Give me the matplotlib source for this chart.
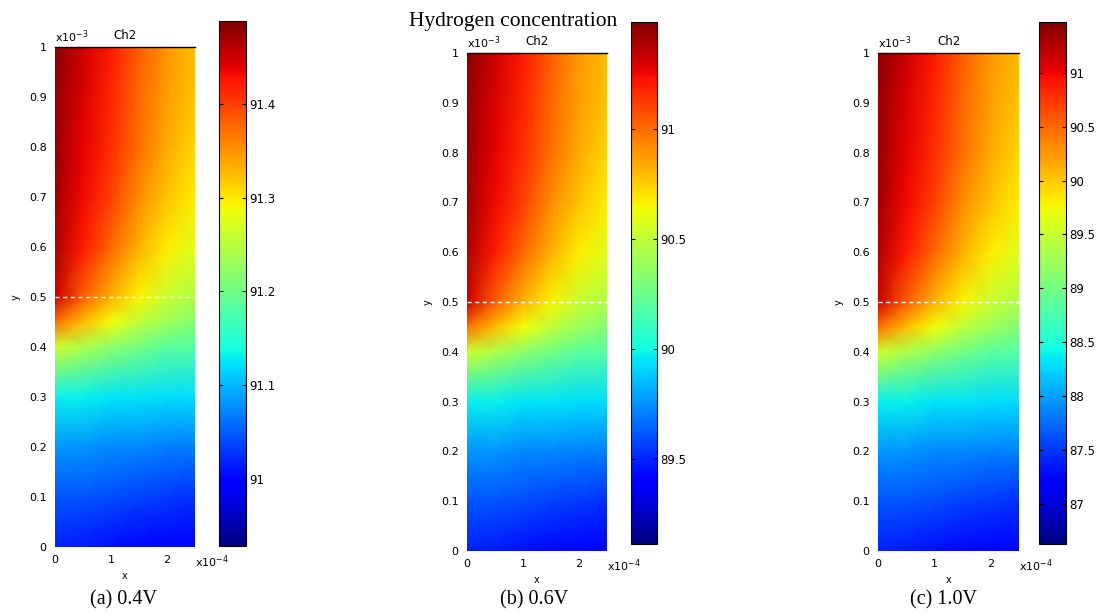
import numpy as np
import matplotlib.pyplot as plt

# grid positions (x in 1e-4, y in 1e-3)
x_pos = [0, 0.5, 1.0, 1.5, 2.0, 2.5]
y_pos = [0, 0.1, 0.2, 0.3, 0.4, 0.45, 0.5, 0.6, 0.7, 0.8, 0.9, 1.0]

frac = [
    [0.16, 0.15, 0.14, 0.13, 0.12, 0.11],
    [0.21, 0.21, 0.20, 0.19, 0.18, 0.17],
    [0.27, 0.27, 0.26, 0.26, 0.25, 0.25],
    [0.36, 0.36, 0.35, 0.35, 0.34, 0.34],
    [0.60, 0.56, 0.52, 0.49, 0.46, 0.45],
    [0.79, 0.71, 0.64, 0.58, 0.54, 0.51],
    [0.93, 0.81, 0.72, 0.65, 0.59, 0.56],
    [0.96, 0.88, 0.80, 0.72, 0.66, 0.62],
    [0.97, 0.90, 0.84, 0.76, 0.70, 0.66],
    [0.98, 0.91, 0.86, 0.79, 0.73, 0.68],
    [0.98, 0.92, 0.87, 0.80, 0.74, 0.70],
    [0.99, 0.93, 0.88, 0.81, 0.75, 0.71],
]

captions = ["(a) 0.4V", "(b) 0.6V", "(c) 1.0V"]
cmin = [90.929, 89.114, 86.63]
cmax = [91.488, 91.486, 91.47]
cticks = [
    [91, 91.1, 91.2, 91.3, 91.4],
    [89.5, 90, 90.5, 91],
    [87, 87.5, 88, 88.5, 89, 89.5, 90, 90.5, 91],
]
y_ticks = [0, 0.1, 0.2, 0.3, 0.4, 0.5, 0.6, 0.7, 0.8, 0.9, 1]
x_ticks = [0, 1, 2]

W, H = 1104, 613
# pixel boxes: axes (left, top, right, bottom), colorbar likewise
ax_box = [(55, 47, 195, 547), (467, 53, 607, 551), (878, 53, 1019, 551)]
cb_box = [(219, 21, 246, 546), (631, 22, 657, 544), (1039, 22, 1066, 544)]
cap_x = [124, 534, 944]


def rect(b):
    l, t, r, bt = b
    return [l / W, 1 - bt / H, (r - l) / W, (bt - t) / H]


fig = plt.figure(figsize=(W / 100, H / 100), dpi=100)
X, Y = np.meshgrid(x_pos, y_pos)
F = np.array(frac)

for i in range(3):
    ax = fig.add_axes(rect(ax_box[i]))
    Z = cmin[i] + F * (cmax[i] - cmin[i])
    mesh = ax.pcolormesh(X, Y, Z, shading='gouraud', cmap='jet',
                         vmin=cmin[i], vmax=cmax[i])
    ax.plot([0, 2.5], [0.5, 0.5], color='white', lw=1, ls=(0, (3, 2.5)))
    ax.set_xlim(0, 2.5)
    ax.set_ylim(0, 1)
    ax.set_xticks(x_ticks)
    ax.set_yticks(y_ticks)
    ax.set_yticklabels([f"{v:g}" for v in y_ticks])
    ax.tick_params(length=0, labelsize=8, pad=6)
    for s in ['left', 'right', 'bottom']:
        ax.spines[s].set_visible(False)
    ax.spines['top'].set_linewidth(1.0)
    ax.set_title("Ch2", fontsize=8.5, pad=6)
    ax.text(0.0, 1.004, r"x10$^{-3}$", transform=ax.transAxes,
            fontsize=8, ha='left', va='bottom')
    ax.text(1.0, -0.012, r"x10$^{-4}$", transform=ax.transAxes,
            fontsize=8, ha='left', va='top')
    ax.set_xlabel("x", fontsize=7, labelpad=4)
    ax.set_ylabel("y", fontsize=7, labelpad=6)

    cax = fig.add_axes(rect(cb_box[i]))
    cb = fig.colorbar(mesh, cax=cax)
    cb.set_ticks(cticks[i])
    cb.set_ticklabels([f"{v:g}" for v in cticks[i]])
    cax.tick_params(labelsize=8.5, length=3, direction='in', left=True,
                    right=True, width=0.8, pad=2)
    cb.outline.set_linewidth(0.8)

    fig.text(cap_x[i] / W, 1 - 600 / H, captions[i],
             family='Liberation Serif', fontsize=14.5, ha='center', va='center')

fig.text(513 / W, 1 - 26 / H, "Hydrogen concentration",
         family='Liberation Serif', fontsize=15.5, ha='center', va='baseline')

fig.savefig("out.png", dpi=100)
